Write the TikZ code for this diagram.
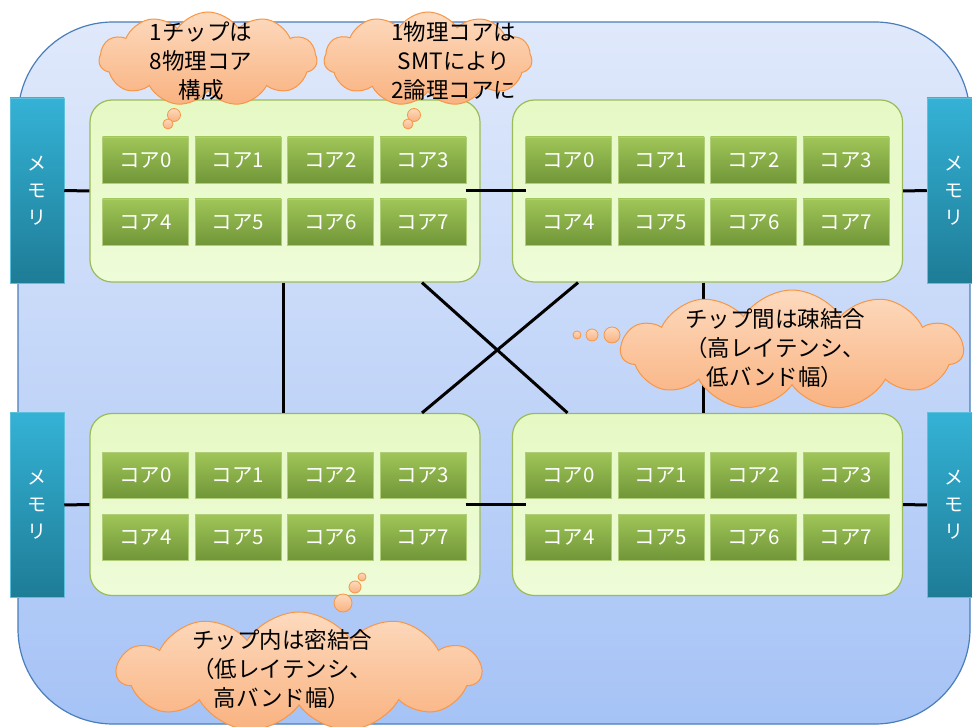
\documentclass[tikz,border=0pt]{standalone}
\usepackage{fontspec}
\setmainfont{Noto Sans CJK JP}
\usetikzlibrary{shapes.symbols}
\definecolor{outerTop}{RGB}{224,233,251}
\definecolor{outerBot}{RGB}{166,195,246}
\definecolor{outerLine}{RGB}{74,126,187}
\definecolor{chipTop}{RGB}{230,249,196}
\definecolor{chipBot}{RGB}{238,252,216}
\definecolor{chipLine}{RGB}{155,187,89}
\definecolor{coreTop}{RGB}{160,197,88}
\definecolor{coreBot}{RGB}{112,150,56}
\definecolor{coreLine}{RGB}{176,206,120}
\definecolor{memTop}{RGB}{52,178,214}
\definecolor{memBot}{RGB}{30,124,150}
\definecolor{cloudTop}{RGB}{253,218,190}
\definecolor{cloudBot}{RGB}{249,178,128}
\definecolor{cloudLine}{RGB}{247,150,70}
\begin{document}
\begin{tikzpicture}[x=1pt,y=-1pt,
  chip/.style={draw=chipLine,line width=1.2pt,top color=chipTop,bottom color=chipBot,
    rounded corners=22pt,minimum width=390pt,minimum height=182pt,inner sep=0pt},
  core/.style={draw=coreLine,line width=0.6pt,top color=coreTop,bottom color=coreBot,
    minimum width=86pt,minimum height=46pt,inner sep=0pt,text=white,
    font=\fontsize{20.5}{22}\selectfont},
  mem/.style={draw=memTop!80!white,line width=0.5pt,top color=memTop,bottom color=memBot,
    minimum width=54pt,minimum height=185pt,inner sep=0pt,text=white,align=center,
    font=\fontsize{19}{27}\selectfont},
  cloudbg/.style={cloud,cloud puffs=11,cloud puff arc=115,cloud ignores aspect,
    draw=cloudLine,line width=1pt,top color=cloudTop,bottom color=cloudBot,inner sep=0pt},
  bubble/.style={circle,draw=cloudLine,line width=0.8pt,top color=cloudTop,bottom color=cloudBot,inner sep=0pt},
  cloudtxt/.style={align=center,text=black,font=\fontsize{22.5}{29}\selectfont,inner sep=0pt},
  link/.style={line width=3pt,black}]
\clip (0,0) rectangle (972,727);
\fill[white] (0,0) rectangle (972,727);
% outer area
\path[draw=outerLine,line width=1.2pt,top color=outerTop,bottom color=outerBot,rounded corners=95pt]
  (18,22) rectangle (970,724);
% chips
\node[chip] (tlchip) at (285,191) {};
\node[chip] (trchip) at (707.5,191) {};
\node[chip] (blchip) at (285,504.5) {};
\node[chip] (brchip) at (707.5,504.5) {};
% memories
\node[mem] (ml1) at (37,190.5) {メ\\モ\\リ};
\node[mem] (mr1) at (954,190.5) {メ\\モ\\リ};
\node[mem] (ml2) at (37,505) {メ\\モ\\リ};
\node[mem] (mr2) at (954,505) {メ\\モ\\リ};
% connectors
\draw[link] (ml1.east) -- (tlchip.west);
\draw[link] (trchip.east) -- (mr1.west);
\draw[link] (ml2.east) -- (blchip.west);
\draw[link] (brchip.east) -- (mr2.west);
\draw[link] ([xshift=-15pt]tlchip.east) -- ([xshift=14pt]trchip.west);
\draw[link] ([xshift=-15pt]blchip.east) -- ([xshift=14pt]brchip.west);
\draw[link] ([xshift=-2pt]tlchip.south) -- ([xshift=-2pt]blchip.north);
\draw[link] ([xshift=-4.5pt]trchip.south) -- ([xshift=-4.5pt]brchip.north);
\draw[link] ([xshift=137pt]tlchip.south) -- ([xshift=-140pt]brchip.north);
\draw[link] ([xshift=-129.5pt]trchip.south) -- ([xshift=137pt]blchip.north);
% cores
\foreach \cx/\nm in {145.5/tl,568.5/tr}{
  \foreach \i in {0,1,2,3}{
    \node[core] (\nm\i) at ({\cx+92.5*\i},160) {コア\i};
    \pgfmathtruncatemacro{\j}{\i+4}
    \node[core] (\nm\j) at ({\cx+92.5*\i},222) {コア\j};
  }
}
\foreach \cx/\nm in {145.5/bl,568.5/br}{
  \foreach \i in {0,1,2,3}{
    \node[core] (\nm\i) at ({\cx+92.5*\i},475) {コア\i};
    \pgfmathtruncatemacro{\j}{\i+4}
    \node[core] (\nm\j) at ({\cx+92.5*\i},537) {コア\j};
  }
}
% clouds
\node[cloudbg,minimum width=218pt,minimum height=94pt] (cl1) at (208,59) {};
\node[bubble,minimum size=13pt] (b1a) at (174,115) {};
\node[bubble,minimum size=10pt] (b1b) at (168,124) {};
\node[cloudtxt] (t1) at (201,61) {1チップは\\8物理コア\\構成};
\node[cloudbg,minimum width=208pt,minimum height=94pt] (cl2) at (428,59) {};
\node[bubble,minimum size=13pt] (b2a) at (414,115) {};
\node[bubble,minimum size=10pt] (b2b) at (408,124) {};
\node[cloudtxt] (t2) at (454,61) {1物理コアは\\SMTにより\\2論理コアに};
\node[cloudbg,minimum width=342pt,minimum height=120pt] (cl3) at (792,350) {};
\node[bubble,minimum size=16pt] (b3a) at (612,335) {};
\node[bubble,minimum size=12pt] (b3b) at (592,335) {};
\node[bubble,minimum size=8pt] (b3c) at (577,335) {};
\node[cloudtxt] (t3) at (775,348) {チップ間は疎結合\\（高レイテンシ、\\低バンド幅）};
\node[cloudbg,minimum width=364pt,minimum height=120pt] (cl4) at (299,672) {};
\node[bubble,minimum size=18pt] (b4a) at (343,603) {};
\node[bubble,minimum size=12pt] (b4b) at (355,587) {};
\node[bubble,minimum size=8pt] (b4c) at (362,577) {};
\node[cloudtxt] (t4) at (282,669) {チップ内は密結合\\（低レイテンシ、\\高バンド幅）};
\end{tikzpicture}
\end{document}
